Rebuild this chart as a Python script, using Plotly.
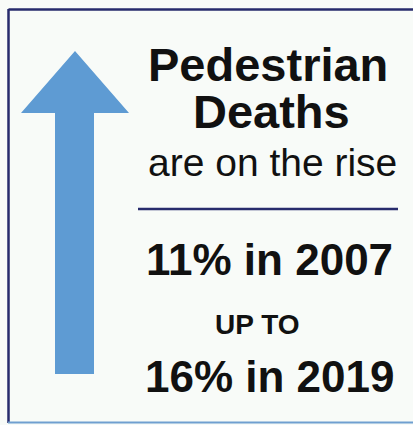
import plotly.graph_objects as go

# ---- data ----
title_lines = ["Pedestrian", "Deaths"]
subtitle = "are on the rise"
years = [2007, 2019]
shares = [11, 16]
connector = "UP TO"

# ---- style ----
BG = "#f8fbf8"
NAVY = "#272b6c"
ARROW = "#5e9bd3"
INK = "#111111"
FONT_B = "Liberation Sans"

W, H = 413, 425
fig = go.Figure()

shapes = [
    # arrow
    dict(type="path", path="M 75 51 L 129 113 L 94 113 L 94 374 L 55 374 L 55 113 L 21 113 Z",
         fillcolor=ARROW, line=dict(width=0), layer="below"),
    # frame
    dict(type="line", x0=8.5, y0=9.5, x1=413, y1=9.5, line=dict(color=NAVY, width=2.5)),
    dict(type="line", x0=8.5, y0=9, x1=8.5, y1=423, line=dict(color=NAVY, width=2.5)),
    dict(type="line", x0=8, y0=422.5, x1=413, y1=422.5, line=dict(color="#6f9fd0", width=2)),
    # separator
    dict(type="line", x0=138, y0=209, x1=398, y1=209, line=dict(color=NAVY, width=2.5)),
]

ann = []
def add(text, x, y, size, bold=True, height=None):
    a = dict(text=f"<b>{text}</b>" if bold else text, x=x, y=y, xref="x", yref="y",
             xanchor="center", yanchor="middle", showarrow=False,
             font=dict(family=FONT_B, size=size, color=INK))
    if height:
        a["height"] = height
    ann.append(a)

add(title_lines[0], 268, 64, 47, height=45)
add(title_lines[1], 271, 111, 47, height=45)
add(subtitle, 272, 162, 39, bold=False)
add(f"{shares[0]}% in {years[0]}", 269, 259, 44)
add(connector, 257, 324, 28)
add(f"{shares[1]}% in {years[1]}", 270, 376, 44)

fig.update_layout(
    width=W, height=H, margin=dict(l=0, r=0, t=0, b=0),
    paper_bgcolor=BG, plot_bgcolor=BG,
    xaxis=dict(range=[0, W], visible=False, fixedrange=True),
    yaxis=dict(range=[H, 0], visible=False, fixedrange=True),
    shapes=shapes, annotations=ann, showlegend=False,
)
fig.write_html("out.html", config=dict(displayModeBar=False),
               post_script="document.body.style.margin='0';document.body.style.overflow='hidden';")
